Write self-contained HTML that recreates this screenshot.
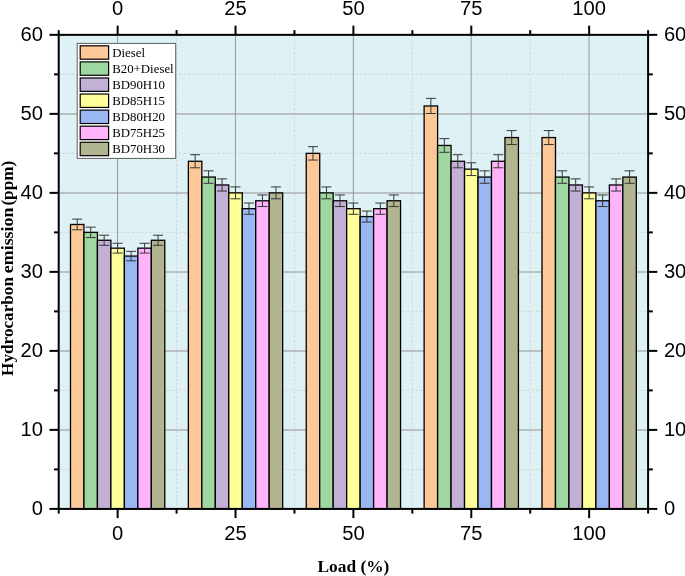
<!DOCTYPE html>
<html><head><meta charset="utf-8"><title>Hydrocarbon emission</title>
<style>html,body{margin:0;padding:0;background:#fff}svg{display:block}</style></head>
<body>
<svg width="685" height="576" viewBox="0 0 685 576">
<rect x="0" y="0" width="685" height="576" fill="#fff"/>
<rect x="58.7" y="34.85" width="589.4" height="474.04999999999995" fill="#DEF2F5"/>
<g stroke="#CFCFD2" stroke-width="0.85" stroke-dasharray="2.4 1.9" fill="none">
<line x1="58.7" x2="648.1" y1="469.40" y2="469.40"/>
<line x1="58.7" x2="648.1" y1="390.39" y2="390.39"/>
<line x1="58.7" x2="648.1" y1="311.38" y2="311.38"/>
<line x1="58.7" x2="648.1" y1="232.37" y2="232.37"/>
<line x1="58.7" x2="648.1" y1="153.36" y2="153.36"/>
<line x1="58.7" x2="648.1" y1="74.35" y2="74.35"/>
<line x1="176.58" x2="176.58" y1="34.85" y2="508.9"/>
<line x1="294.46" x2="294.46" y1="34.85" y2="508.9"/>
<line x1="412.34" x2="412.34" y1="34.85" y2="508.9"/>
<line x1="530.22" x2="530.22" y1="34.85" y2="508.9"/>
</g>
<g stroke="#ADB1B3" stroke-width="1.55" fill="none">
<line x1="58.7" x2="648.1" y1="429.99" y2="429.99"/>
<line x1="58.7" x2="648.1" y1="350.98" y2="350.98"/>
<line x1="58.7" x2="648.1" y1="271.98" y2="271.98"/>
<line x1="58.7" x2="648.1" y1="192.97" y2="192.97"/>
<line x1="58.7" x2="648.1" y1="113.96" y2="113.96"/>
</g>
<g stroke="#909395" stroke-width="0.95" fill="none">
<line x1="117.54" x2="117.54" y1="34.85" y2="508.9"/>
<line x1="235.42" x2="235.42" y1="34.85" y2="508.9"/>
<line x1="353.30" x2="353.30" y1="34.85" y2="508.9"/>
<line x1="471.18" x2="471.18" y1="34.85" y2="508.9"/>
<line x1="589.06" x2="589.06" y1="34.85" y2="508.9"/>
</g>
<g stroke="#000" stroke-width="1.3">
<rect x="70.49" y="224.47" width="13.47" height="284.43" fill="#FDC897"/>
<rect x="83.96" y="232.37" width="13.47" height="276.53" fill="#9ED8A0"/>
<rect x="97.43" y="240.27" width="13.47" height="268.63" fill="#C3B0D7"/>
<rect x="110.90" y="248.17" width="13.47" height="260.73" fill="#FFFF99"/>
<rect x="124.38" y="256.07" width="13.47" height="252.83" fill="#99B8F3"/>
<rect x="137.85" y="248.17" width="13.47" height="260.73" fill="#FFB3FA"/>
<rect x="151.32" y="240.27" width="13.47" height="268.63" fill="#B2B690"/>
<rect x="188.37" y="161.26" width="13.47" height="347.64" fill="#FDC897"/>
<rect x="201.84" y="177.06" width="13.47" height="331.83" fill="#9ED8A0"/>
<rect x="215.31" y="184.97" width="13.47" height="323.93" fill="#C3B0D7"/>
<rect x="228.78" y="192.87" width="13.47" height="316.03" fill="#FFFF99"/>
<rect x="242.26" y="208.67" width="13.47" height="300.23" fill="#99B8F3"/>
<rect x="255.73" y="200.77" width="13.47" height="308.13" fill="#FFB3FA"/>
<rect x="269.20" y="192.87" width="13.47" height="316.03" fill="#B2B690"/>
<rect x="306.25" y="153.36" width="13.47" height="355.54" fill="#FDC897"/>
<rect x="319.72" y="192.87" width="13.47" height="316.03" fill="#9ED8A0"/>
<rect x="333.19" y="200.77" width="13.47" height="308.13" fill="#C3B0D7"/>
<rect x="346.66" y="208.67" width="13.47" height="300.23" fill="#FFFF99"/>
<rect x="360.14" y="216.57" width="13.47" height="292.33" fill="#99B8F3"/>
<rect x="373.61" y="208.67" width="13.47" height="300.23" fill="#FFB3FA"/>
<rect x="387.08" y="200.77" width="13.47" height="308.13" fill="#B2B690"/>
<rect x="424.13" y="105.96" width="13.47" height="402.94" fill="#FDC897"/>
<rect x="437.60" y="145.46" width="13.47" height="363.44" fill="#9ED8A0"/>
<rect x="451.07" y="161.26" width="13.47" height="347.64" fill="#C3B0D7"/>
<rect x="464.54" y="169.16" width="13.47" height="339.74" fill="#FFFF99"/>
<rect x="478.02" y="177.06" width="13.47" height="331.83" fill="#99B8F3"/>
<rect x="491.49" y="161.26" width="13.47" height="347.64" fill="#FFB3FA"/>
<rect x="504.96" y="137.56" width="13.47" height="371.34" fill="#B2B690"/>
<rect x="542.01" y="137.56" width="13.47" height="371.34" fill="#FDC897"/>
<rect x="555.48" y="177.06" width="13.47" height="331.83" fill="#9ED8A0"/>
<rect x="568.95" y="184.97" width="13.47" height="323.93" fill="#C3B0D7"/>
<rect x="582.42" y="192.87" width="13.47" height="316.03" fill="#FFFF99"/>
<rect x="595.90" y="200.77" width="13.47" height="308.13" fill="#99B8F3"/>
<rect x="609.37" y="184.97" width="13.47" height="323.93" fill="#FFB3FA"/>
<rect x="622.84" y="177.06" width="13.47" height="331.83" fill="#B2B690"/>
</g>
<g stroke="#363636" stroke-width="1.0" fill="none">
<path d="M77.22 219.12V229.82M72.22 219.12H82.22M72.22 229.82H82.22"/>
<path d="M90.70 227.17V237.57M85.70 227.17H95.70M85.70 237.57H95.70"/>
<path d="M104.17 235.22V245.32M99.17 235.22H109.17M99.17 245.32H109.17"/>
<path d="M117.64 243.27V253.07M112.64 243.27H122.64M112.64 253.07H122.64"/>
<path d="M131.11 251.32V260.83M126.11 251.32H136.11M126.11 260.83H136.11"/>
<path d="M144.58 243.27V253.07M139.58 243.27H149.58M139.58 253.07H149.58"/>
<path d="M158.06 235.22V245.32M153.06 235.22H163.06M153.06 245.32H163.06"/>
<path d="M195.10 154.73V167.80M190.10 154.73H200.10M190.10 167.80H200.10"/>
<path d="M208.58 170.83V183.30M203.58 170.83H213.58M203.58 183.30H213.58"/>
<path d="M222.05 178.88V191.06M217.05 178.88H227.05M217.05 191.06H227.05"/>
<path d="M235.52 186.93V198.81M230.52 186.93H240.52M230.52 198.81H240.52"/>
<path d="M248.99 203.02V214.31M243.99 203.02H253.99M243.99 214.31H253.99"/>
<path d="M262.46 194.97V206.56M257.46 194.97H267.46M257.46 206.56H267.46"/>
<path d="M275.94 186.93V198.81M270.94 186.93H280.94M270.94 198.81H280.94"/>
<path d="M312.98 146.68V160.05M307.98 146.68H317.98M307.98 160.05H317.98"/>
<path d="M326.46 186.93V198.81M321.46 186.93H331.46M321.46 198.81H331.46"/>
<path d="M339.93 194.97V206.56M334.93 194.97H344.93M334.93 206.56H344.93"/>
<path d="M353.40 203.02V214.31M348.40 203.02H358.40M348.40 214.31H358.40"/>
<path d="M366.87 211.07V222.06M361.87 211.07H371.87M361.87 222.06H371.87"/>
<path d="M380.34 203.02V214.31M375.34 203.02H385.34M375.34 214.31H385.34"/>
<path d="M393.82 194.97V206.56M388.82 194.97H398.82M388.82 206.56H398.82"/>
<path d="M430.86 98.38V113.53M425.86 98.38H435.86M425.86 113.53H435.86"/>
<path d="M444.34 138.63V152.29M439.34 138.63H449.34M439.34 152.29H449.34"/>
<path d="M457.81 154.73V167.80M452.81 154.73H462.81M452.81 167.80H462.81"/>
<path d="M471.28 162.78V175.55M466.28 162.78H476.28M466.28 175.55H476.28"/>
<path d="M484.75 170.83V183.30M479.75 170.83H489.75M479.75 183.30H489.75"/>
<path d="M498.22 154.73V167.80M493.22 154.73H503.22M493.22 167.80H503.22"/>
<path d="M511.70 130.58V144.54M506.70 130.58H516.70M506.70 144.54H516.70"/>
<path d="M548.74 130.58V144.54M543.74 130.58H553.74M543.74 144.54H553.74"/>
<path d="M562.22 170.83V183.30M557.22 170.83H567.22M557.22 183.30H567.22"/>
<path d="M575.69 178.88V191.06M570.69 178.88H580.69M570.69 191.06H580.69"/>
<path d="M589.16 186.93V198.81M584.16 186.93H594.16M584.16 198.81H594.16"/>
<path d="M602.63 194.97V206.56M597.63 194.97H607.63M597.63 206.56H607.63"/>
<path d="M616.10 178.88V191.06M611.10 178.88H621.10M611.10 191.06H621.10"/>
<path d="M629.58 170.83V183.30M624.58 170.83H634.58M624.58 183.30H634.58"/>
</g>
<g stroke="#000" stroke-width="2" fill="none" stroke-linecap="butt">
<rect x="58.7" y="34.85" width="589.4" height="474.04999999999995" />
<line x1="49.5" x2="58.7" y1="508.90" y2="508.90"/>
<line x1="648.1" x2="657.3000000000001" y1="508.90" y2="508.90"/>
<line x1="54.0" x2="58.7" y1="469.40" y2="469.40"/>
<line x1="648.1" x2="652.8000000000001" y1="469.40" y2="469.40"/>
<line x1="49.5" x2="58.7" y1="429.89" y2="429.89"/>
<line x1="648.1" x2="657.3000000000001" y1="429.89" y2="429.89"/>
<line x1="54.0" x2="58.7" y1="390.39" y2="390.39"/>
<line x1="648.1" x2="652.8000000000001" y1="390.39" y2="390.39"/>
<line x1="49.5" x2="58.7" y1="350.88" y2="350.88"/>
<line x1="648.1" x2="657.3000000000001" y1="350.88" y2="350.88"/>
<line x1="54.0" x2="58.7" y1="311.38" y2="311.38"/>
<line x1="648.1" x2="652.8000000000001" y1="311.38" y2="311.38"/>
<line x1="49.5" x2="58.7" y1="271.88" y2="271.88"/>
<line x1="648.1" x2="657.3000000000001" y1="271.88" y2="271.88"/>
<line x1="54.0" x2="58.7" y1="232.37" y2="232.37"/>
<line x1="648.1" x2="652.8000000000001" y1="232.37" y2="232.37"/>
<line x1="49.5" x2="58.7" y1="192.87" y2="192.87"/>
<line x1="648.1" x2="657.3000000000001" y1="192.87" y2="192.87"/>
<line x1="54.0" x2="58.7" y1="153.36" y2="153.36"/>
<line x1="648.1" x2="652.8000000000001" y1="153.36" y2="153.36"/>
<line x1="49.5" x2="58.7" y1="113.86" y2="113.86"/>
<line x1="648.1" x2="657.3000000000001" y1="113.86" y2="113.86"/>
<line x1="54.0" x2="58.7" y1="74.35" y2="74.35"/>
<line x1="648.1" x2="652.8000000000001" y1="74.35" y2="74.35"/>
<line x1="49.5" x2="58.7" y1="34.85" y2="34.85"/>
<line x1="648.1" x2="657.3000000000001" y1="34.85" y2="34.85"/>
<line x1="58.70" x2="58.70" y1="30.150000000000002" y2="34.85"/>
<line x1="58.70" x2="58.70" y1="508.9" y2="513.6"/>
<line x1="117.64" x2="117.64" y1="25.650000000000002" y2="34.85"/>
<line x1="117.64" x2="117.64" y1="508.9" y2="518.1"/>
<line x1="176.58" x2="176.58" y1="30.150000000000002" y2="34.85"/>
<line x1="176.58" x2="176.58" y1="508.9" y2="513.6"/>
<line x1="235.52" x2="235.52" y1="25.650000000000002" y2="34.85"/>
<line x1="235.52" x2="235.52" y1="508.9" y2="518.1"/>
<line x1="294.46" x2="294.46" y1="30.150000000000002" y2="34.85"/>
<line x1="294.46" x2="294.46" y1="508.9" y2="513.6"/>
<line x1="353.40" x2="353.40" y1="25.650000000000002" y2="34.85"/>
<line x1="353.40" x2="353.40" y1="508.9" y2="518.1"/>
<line x1="412.34" x2="412.34" y1="30.150000000000002" y2="34.85"/>
<line x1="412.34" x2="412.34" y1="508.9" y2="513.6"/>
<line x1="471.28" x2="471.28" y1="25.650000000000002" y2="34.85"/>
<line x1="471.28" x2="471.28" y1="508.9" y2="518.1"/>
<line x1="530.22" x2="530.22" y1="30.150000000000002" y2="34.85"/>
<line x1="530.22" x2="530.22" y1="508.9" y2="513.6"/>
<line x1="589.16" x2="589.16" y1="25.650000000000002" y2="34.85"/>
<line x1="589.16" x2="589.16" y1="508.9" y2="518.1"/>
<line x1="648.10" x2="648.10" y1="30.150000000000002" y2="34.85"/>
<line x1="648.10" x2="648.10" y1="508.9" y2="513.6"/>
</g>
<g font-family="'Liberation Sans', Arial, sans-serif" font-size="20.5" fill="#000">
<text transform="translate(117.64 14.60) scale(0.985 1.03)" text-anchor="middle">0</text>
<text transform="translate(117.64 540.20) scale(0.985 1.03)" text-anchor="middle">0</text>
<text transform="translate(235.52 14.60) scale(0.985 1.03)" text-anchor="middle">25</text>
<text transform="translate(235.52 540.20) scale(0.985 1.03)" text-anchor="middle">25</text>
<text transform="translate(353.40 14.60) scale(0.985 1.03)" text-anchor="middle">50</text>
<text transform="translate(353.40 540.20) scale(0.985 1.03)" text-anchor="middle">50</text>
<text transform="translate(471.28 14.60) scale(0.985 1.03)" text-anchor="middle">75</text>
<text transform="translate(471.28 540.20) scale(0.985 1.03)" text-anchor="middle">75</text>
<text transform="translate(589.16 14.60) scale(0.985 1.03)" text-anchor="middle">100</text>
<text transform="translate(589.16 540.20) scale(0.985 1.03)" text-anchor="middle">100</text>
<text transform="translate(43.00 515.45) scale(0.985 1.03)" text-anchor="end">0</text>
<text transform="translate(663.90 515.45) scale(0.985 1.03)" text-anchor="start">0</text>
<text transform="translate(43.00 436.44) scale(0.985 1.03)" text-anchor="end">10</text>
<text transform="translate(663.90 436.44) scale(0.985 1.03)" text-anchor="start">10</text>
<text transform="translate(43.00 357.43) scale(0.985 1.03)" text-anchor="end">20</text>
<text transform="translate(663.90 357.43) scale(0.985 1.03)" text-anchor="start">20</text>
<text transform="translate(43.00 278.43) scale(0.985 1.03)" text-anchor="end">30</text>
<text transform="translate(663.90 278.43) scale(0.985 1.03)" text-anchor="start">30</text>
<text transform="translate(43.00 199.42) scale(0.985 1.03)" text-anchor="end">40</text>
<text transform="translate(663.90 199.42) scale(0.985 1.03)" text-anchor="start">40</text>
<text transform="translate(43.00 120.41) scale(0.985 1.03)" text-anchor="end">50</text>
<text transform="translate(663.90 120.41) scale(0.985 1.03)" text-anchor="start">50</text>
<text transform="translate(43.00 41.40) scale(0.985 1.03)" text-anchor="end">60</text>
<text transform="translate(663.90 41.40) scale(0.985 1.03)" text-anchor="start">60</text>
</g>
<g font-family="'Liberation Serif', 'Times New Roman', serif" font-weight="bold" font-size="17.38" fill="#000">
<text x="353.4" y="571.8" text-anchor="middle">Load (%)</text>
<text transform="translate(12.7 375.9) rotate(-90)" textLength="98.9" lengthAdjust="spacingAndGlyphs">Hydrocarbon</text>
<text transform="translate(12.7 273.3) rotate(-90)" textLength="65.9" lengthAdjust="spacingAndGlyphs">emission</text>
<text transform="translate(12.7 205.6) rotate(-90)" textLength="44.9" lengthAdjust="spacingAndGlyphs">(ppm)</text>
</g>
<rect x="77.2" y="43.4" width="98.5" height="115" fill="#fff" stroke="#5e5e5e" stroke-width="1"/>
<g font-family="'Liberation Serif', 'Times New Roman', serif" font-size="12.85" fill="#000">
<rect x="80.2" y="45.80" width="28.4" height="13.4" fill="#FDC897" stroke="#000" stroke-width="1.2"/>
<text x="112.2" y="57.00">Diesel</text>
<rect x="80.2" y="61.88" width="28.4" height="13.4" fill="#9ED8A0" stroke="#000" stroke-width="1.2"/>
<text x="112.2" y="73.08">B20+Diesel</text>
<rect x="80.2" y="77.96" width="28.4" height="13.4" fill="#C3B0D7" stroke="#000" stroke-width="1.2"/>
<text x="112.2" y="89.16">BD90H10</text>
<rect x="80.2" y="94.04" width="28.4" height="13.4" fill="#FFFF99" stroke="#000" stroke-width="1.2"/>
<text x="112.2" y="105.24">BD85H15</text>
<rect x="80.2" y="110.12" width="28.4" height="13.4" fill="#99B8F3" stroke="#000" stroke-width="1.2"/>
<text x="112.2" y="121.32">BD80H20</text>
<rect x="80.2" y="126.20" width="28.4" height="13.4" fill="#FFB3FA" stroke="#000" stroke-width="1.2"/>
<text x="112.2" y="137.40">BD75H25</text>
<rect x="80.2" y="142.28" width="28.4" height="13.4" fill="#B2B690" stroke="#000" stroke-width="1.2"/>
<text x="112.2" y="153.48">BD70H30</text>
</g>
</svg>
</body></html>
